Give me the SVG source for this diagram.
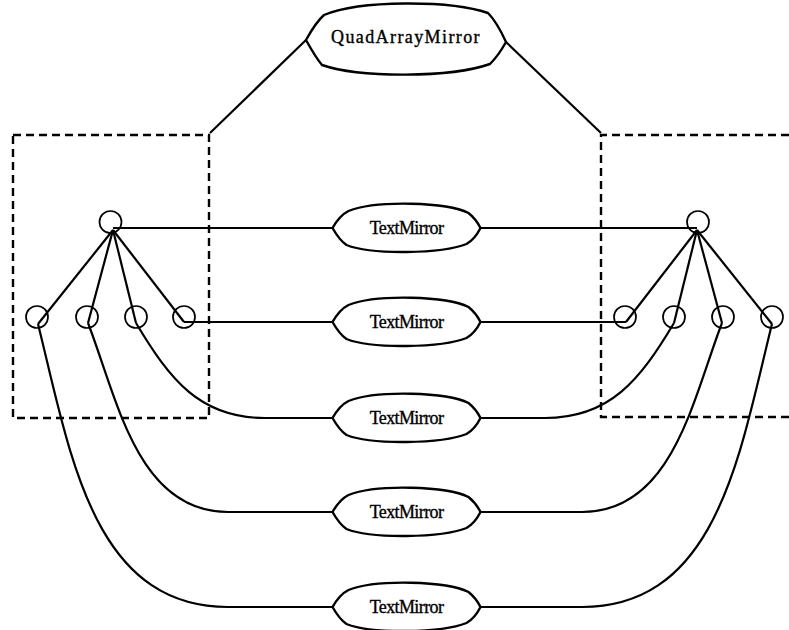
<svg xmlns="http://www.w3.org/2000/svg" width="789" height="630" viewBox="0 0 789 630">
<style>
.bg{fill:#fff}
.line{fill:none;stroke:#000;stroke-width:2.2;stroke-linejoin:round}
.dash{fill:none;stroke:#000;stroke-width:2.4;stroke-dasharray:8 5}
.port{fill:none;stroke:#000;stroke-width:1.7}
.shape{fill:#fff;stroke:#000;stroke-width:2.4;stroke-linejoin:round}
.lbl{font-family:"Liberation Serif","Times New Roman",serif;fill:#000;text-anchor:middle;stroke:#000;stroke-width:0.35}
.tm{font-size:18px;letter-spacing:-0.6px}
.qam{font-size:18px;letter-spacing:1.4px}
</style>
<defs>
<path id="tmShape" d="M-74,0 C-70,-7 -66,-13 -58,-17 C-30,-28 40,-26 62,-15 C67,-11 71,-6 74,0 C71,6 67,12 60,16 C35,26 -35,27 -60,17 C-66,13 -70,7 -74,0 Z"/>
</defs>
<rect class="bg" x="0" y="0" width="789" height="630"/>

<g id="groups">
<rect id="leftGroup" class="dash" x="13" y="135" width="196" height="283"/>
<path id="rightGroup" class="dash" d="M789,135 H601 V417 H789"/>
</g>

<g id="connectors">
<path class="line" d="M306,40 L210,133"/>
<path class="line" d="M506,42 L601,133"/>
<path class="line" d="M113,230 L38,324"/>
<path class="line" d="M113,230 L88,323"/>
<path class="line" d="M113,230 L136,323"/>
<path class="line" d="M113,230 L184,322"/>
<path class="line" d="M697,230 L772,324"/>
<path class="line" d="M697,230 L722,323"/>
<path class="line" d="M697,230 L674,323"/>
<path class="line" d="M697,230 L626,322"/>
<path class="line" d="M113,228 H333"/>
<path class="line" d="M184,322 H333"/>
<path class="line" d="M136,323 C170,380 200,418 265,418 H333"/>
<path class="line" d="M88,323 C117,398 137,512 228,512 H333"/>
<path class="line" d="M38,324 C70,452 92,607 228,607 H333"/>
<path class="line" d="M697,228 H480"/>
<path class="line" d="M626,322 H480"/>
<path class="line" d="M674,323 C640,380 610,418 545,418 H480"/>
<path class="line" d="M722,323 C693,398 673,512 582,512 H480"/>
<path class="line" d="M772,324 C740,452 718,607 582,607 H480"/>
</g>

<g id="quadArrayMirror">
<path class="shape" d="M306,40 C311,31 316,22 324,15 C360,0 450,0 488,13 C496,21 501,31 506,42 C501,51 496,58 490,64 C450,78 360,78 322,65 C316,58 311,49 306,40 Z"/>
<text class="lbl qam" x="406" y="43">QuadArrayMirror</text>
</g>

<g id="textMirror1" transform="translate(406.5,228)">
<use href="#tmShape" class="shape"/>
<text class="lbl tm" x="0" y="6">TextMirror</text>
</g>
<g id="textMirror2" transform="translate(406.5,322)">
<use href="#tmShape" class="shape"/>
<text class="lbl tm" x="0" y="6">TextMirror</text>
</g>
<g id="textMirror3" transform="translate(406.5,418)">
<use href="#tmShape" class="shape"/>
<text class="lbl tm" x="0" y="6">TextMirror</text>
</g>
<g id="textMirror4" transform="translate(406.5,512)">
<use href="#tmShape" class="shape"/>
<text class="lbl tm" x="0" y="6">TextMirror</text>
</g>
<g id="textMirror5" transform="translate(406.5,607)">
<use href="#tmShape" class="shape"/>
<text class="lbl tm" x="0" y="6">TextMirror</text>
</g>

<g id="leftHubPort"><circle class="port" cx="110.5" cy="222" r="11"/></g>
<g id="leftPort1"><circle class="port" cx="37" cy="317" r="11"/></g>
<g id="leftPort2"><circle class="port" cx="87" cy="317" r="11"/></g>
<g id="leftPort3"><circle class="port" cx="136" cy="317" r="11"/></g>
<g id="leftPort4"><circle class="port" cx="184" cy="317" r="11"/></g>
<g id="rightHubPort"><circle class="port" cx="698" cy="222" r="11"/></g>
<g id="rightPort1"><circle class="port" cx="625" cy="317" r="11"/></g>
<g id="rightPort2"><circle class="port" cx="674" cy="317" r="11"/></g>
<g id="rightPort3"><circle class="port" cx="723" cy="317" r="11"/></g>
<g id="rightPort4"><circle class="port" cx="772" cy="317" r="11"/></g>
</svg>
